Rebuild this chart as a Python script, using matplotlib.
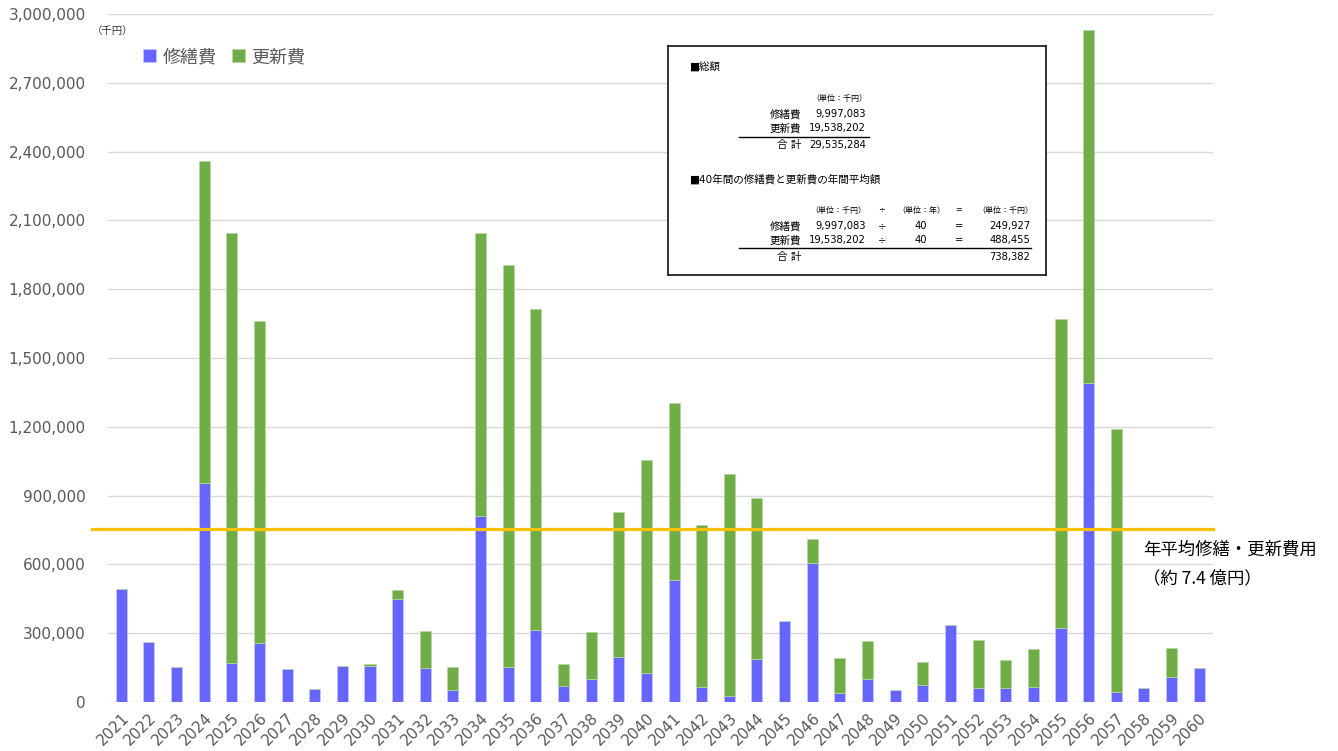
import numpy as np
import matplotlib
matplotlib.use('Agg')
import matplotlib.pyplot as plt
from matplotlib.ticker import FuncFormatter

plt.rcParams['font.family'] = ['DejaVu Sans', 'Noto Sans CJK JP']

# data (thousand yen)
years = [str(y) for y in range(2021, 2061)]
repair = [493000, 262000, 153000, 955000, 170000, 257000, 144000, 57000, 157000, 157000,
          449000, 148000, 52000, 811000, 153000, 314000, 70000, 100000, 196000, 126000,
          532000, 65000, 26000, 187000, 353000, 606000, 39000, 100000, 52000, 74000,
          336000, 61000, 61000, 65000, 323000, 1391000, 44000, 61000, 109000, 148000]
total = [493000, 262000, 153000, 2360000, 2044000, 1661000, 144000, 57000, 157000, 166000,
         488000, 310000, 153000, 2047000, 1904000, 1714000, 166000, 305000, 827000, 1057000,
         1304000, 772000, 993000, 890000, 353000, 711000, 192000, 266000, 52000, 174000,
         336000, 270000, 183000, 231000, 1670000, 2930000, 1190000, 61000, 235000, 148000]
update = [t - r for t, r in zip(total, repair)]
avg_line = 753000

series_names = ['修繕費', '更新費']
colors = ['#6666FF', '#70AD47']

# summary table values
sum_labels = ['修繕費', '更新費']
sum_values = ['9,997,083', '19,538,202']
sum_total = '29,535,284'
n_years = '40'
avg_values = ['249,927', '488,455']
avg_total = '738,382'

fig = plt.figure(figsize=(13.38, 7.51), dpi=100)
ax = fig.add_axes([108/1338, 1-702/751, 1105/1338, 688/751])

x = np.arange(len(years))
ax.bar(x, repair, width=0.4, color=colors[0], edgecolor='#c8c8ff', linewidth=0.5,
       label=series_names[0], zorder=2)
ax.bar(x, update, width=0.4, bottom=repair, color=colors[1], edgecolor='#b5d6a0',
       linewidth=0.5, label=series_names[1], zorder=2)

ax.axhline(avg_line, xmin=-0.0145, xmax=1.0, color='#FFC000', lw=2.3, zorder=3, clip_on=False)

ax.set_xlim(-0.48, 39.5)
ax.set_ylim(0, 3000000)
ax.set_yticks(np.arange(0, 3000001, 300000))
ax.yaxis.set_major_formatter(FuncFormatter(lambda v, p: f'{int(v):,}'))
ax.set_xticks(x)
ax.set_xticklabels(years, rotation=45, ha='right', rotation_mode='anchor')
ax.tick_params(axis='both', length=0, colors='#595959', labelsize=11)
ax.tick_params(axis='y', pad=16)
ax.tick_params(axis='x', pad=6)
ax.grid(axis='y', color='#D9D9D9', lw=1, zorder=0)
ax.set_axisbelow(True)
for s in ax.spines.values():
    s.set_visible(False)

fig.text(92/1338, 1-31/751, '（千円）', fontsize=7.5, color='#333333', va='center',
         family=['Noto Sans CJK JP', 'DejaVu Sans'])

leg = ax.legend(loc='center left', bbox_to_anchor=(127/1338, 1-57/751),
                bbox_transform=fig.transFigure, ncol=2, frameon=False,
                handlelength=0.7, handleheight=0.7, handletextpad=0.35,
                columnspacing=0.9, prop={'family': ['Noto Sans CJK JP'], 'size': 13})
for t in leg.get_texts():
    t.set_color('#595959')

fig.text(1143/1338, 1-550/751, '年平均修繕・更新費用', fontsize=12.5, va='center',
         family=['Noto Sans CJK JP'])
fig.text(1143/1338, 1-578/751, '（約 7.4 億円）', fontsize=12.5, va='center',
         family=['Noto Sans CJK JP'])

# summary box
bx = fig.add_axes([668/1338, 1-275/751, 378/1338, 229/751])
bx.set_xlim(0, 378)
bx.set_ylim(229, 0)
bx.set_xticks([])
bx.set_yticks([])
for s in bx.spines.values():
    s.set_color('#222222')
    s.set_linewidth(1.3)

jp = ['DejaVu Sans', 'Noto Sans CJK JP']
fs = 7.2
sm = 5.8
bx.text(21, 20, '■総額', fontsize=fs + 0.4, va='center', family=jp)
bx.text(171, 52, '（単位：千円）', fontsize=sm, va='center', ha='center', family=jp)
for i, (lab, val) in enumerate(zip(sum_labels, sum_values)):
    yy = 68 + i * 14
    bx.text(133, yy, lab, fontsize=fs + 0.4, va='center', ha='right', family=jp)
    bx.text(198, yy, val, fontsize=fs, va='center', ha='right', family=jp)
bx.plot([71, 201], [91, 91], color='black', lw=1)
bx.text(133, 99, '合 計', fontsize=fs + 0.4, va='center', ha='right', family=jp)
bx.text(198, 99, sum_total, fontsize=fs, va='center', ha='right', family=jp)

bx.text(21, 133, '■40年間の修繕費と更新費の年間平均額', fontsize=fs + 0.4, va='center', family=jp)
bx.text(170, 164, '（単位：千円）', fontsize=sm, va='center', ha='center', family=jp)
bx.text(214, 164, '÷', fontsize=sm, va='center', ha='center', family=jp)
bx.text(253, 164, '（単位：年）', fontsize=sm, va='center', ha='center', family=jp)
bx.text(291, 164, '=', fontsize=sm, va='center', ha='center', family=jp)
bx.text(337, 164, '（単位：千円）', fontsize=sm, va='center', ha='center', family=jp)
for i, (lab, val, av) in enumerate(zip(sum_labels, sum_values, avg_values)):
    yy = 180 + i * 14
    bx.text(133, yy, lab, fontsize=fs + 0.4, va='center', ha='right', family=jp)
    bx.text(198, yy, val, fontsize=fs, va='center', ha='right', family=jp)
    bx.text(214, yy, '÷', fontsize=fs, va='center', ha='center', family=jp)
    bx.text(253, yy, n_years, fontsize=fs, va='center', ha='center', family=jp)
    bx.text(291, yy, '=', fontsize=fs, va='center', ha='center', family=jp)
    bx.text(362, yy, av, fontsize=fs, va='center', ha='right', family=jp)
bx.plot([71, 363], [202, 202], color='black', lw=1)
bx.text(133, 211, '合 計', fontsize=fs + 0.4, va='center', ha='right', family=jp)
bx.text(362, 211, avg_total, fontsize=fs, va='center', ha='right', family=jp)

fig.savefig('out.png', dpi=100)
